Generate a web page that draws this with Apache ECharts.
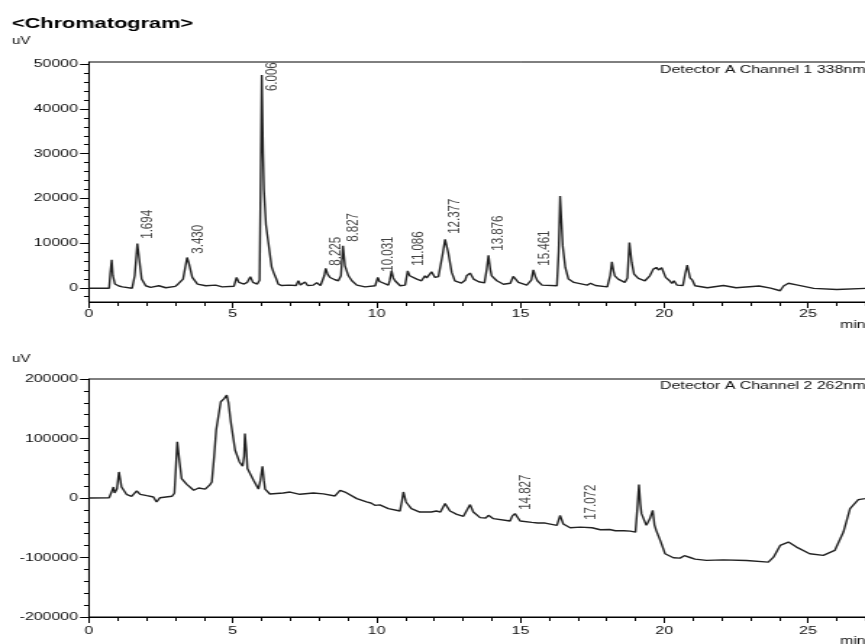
<!DOCTYPE html>
<html>
<head>
<meta charset="utf-8">
<script src="https://cdn.jsdelivr.net/npm/echarts@6/dist/echarts.min.js"></script>
<style>
html, body { margin: 0; padding: 0; background: #fff; overflow: hidden; width: 865px; height: 644px; }
#chart { width: 700px; height: 644px; transform: scaleX(1.4489); transform-origin: 0 0; }
</style>
</head>
<body>
<div id="chart"></div>
<script>
// Detector A Channel 1 338nm
var time1 = [0.00, 0.70, 0.74, 0.79, 0.83, 0.90, 1.04, 1.16, 1.50, 1.59, 1.68, 1.76, 1.83, 1.97, 2.14, 2.43, 2.67, 3.00, 3.10, 3.19,
  3.27, 3.41, 3.48, 3.59, 3.77, 4.06, 4.40, 4.63, 5.04, 5.13, 5.21, 5.39, 5.50, 5.61, 5.70, 5.85, 5.93, 5.97, 6.006, 6.05,
  6.08, 6.15, 6.26, 6.35, 6.42, 6.50, 6.58, 6.70, 6.95, 7.20, 7.28, 7.35, 7.51, 7.60, 7.80, 7.92, 8.05, 8.13, 8.18, 8.23,
  8.30, 8.38, 8.55, 8.67, 8.76, 8.83, 8.90, 9.02, 9.14, 9.31, 9.60, 9.95, 10.04, 10.10, 10.18, 10.41, 10.46, 10.52, 10.58, 10.64,
  10.82, 10.99, 11.08, 11.15, 11.22, 11.40, 11.56, 11.68, 11.74, 11.80, 11.91, 12.03, 12.15, 12.30, 12.38, 12.49, 12.61, 12.72, 12.95, 13.08,
  13.13, 13.19, 13.25, 13.37, 13.55, 13.75, 13.83, 13.89, 13.95, 14.00, 14.18, 14.41, 14.65, 14.75, 14.93, 15.22, 15.38, 15.45, 15.52, 15.59,
  15.75, 16.27, 16.33, 16.38, 16.47, 16.56, 16.67, 16.86, 17.32, 17.44, 17.61, 18.02, 18.12, 18.18, 18.24, 18.28, 18.40, 18.63, 18.72, 18.79,
  18.87, 18.95, 19.10, 19.33, 19.50, 19.62, 19.73, 19.80, 19.85, 19.91, 19.96, 20.05, 20.19, 20.27, 20.34, 20.44, 20.65, 20.73, 20.80, 20.86,
  20.90, 20.98, 21.07, 21.50, 22.06, 22.50, 23.30, 23.70, 24.03, 24.15, 24.32, 24.60, 25.20, 26.00, 27.00, 28.00];
var signal1 = [-300, -300, 3000, 6060, 2500, 650, 200, 0, -300, 2500, 9730, 5480, 1750, 250, -100, 250, -200, 100, 650, 250,
  1750, 6600, 5100, 2120, 630, 250, 400, 0, 150, 2100, 1000, 630, 1000, 2260, 1000, 630, 1500, 25000, 47600, 30000,
  21900, 14000, 8800, 4500, 3200, 2000, 600, 300, 400, 300, 1400, 400, 1100, 300, 400, 900, 300, 500, 2500, 4140,
  2800, 2100, 1600, 1370, 2480, 9200, 4720, 2480, 1370, 400, 0, 250, 2120, 1200, 850, 400, 1500, 3600, 2000, 1370,
  250, 400, 3600, 2500, 2120, 1750, 1370, 2480, 2000, 1800, 3380, 2120, 2300, 7500, 10690, 7700, 3240, 1370, 850, 1500,
  2480, 2300, 3090, 1750, 1150, 900, 4000, 7110, 4000, 2480, 1370, 600, 800, 2340, 1000, 400, 1500, 3830, 2300, 1370,
  400, 250, 8000, 20400, 9200, 4360, 1750, 1000, 400, 800, 300, 0, 2500, 5620, 3500, 2480, 1750, 1000, 2000, 9950,
  5480, 2860, 1900, 1370, 2480, 3980, 4360, 3800, 3830, 4300, 4140, 2120, 1370, 800, 1370, 400, 300, 3000, 4880, 3200,
  2000, 1500, 250, -200, 300, -200, 200, -300, -870, 200, 800, 450, -330, -600, -350, -300];
var peakTimes1 = [1.694, 3.430, 6.006, 8.225, 8.827, 10.031, 11.086, 12.377, 13.876, 15.461];
var peakLabelY1 = [10700, 7340, 43870, 4650, 10000, 3300, 4650, 11800, 8000, 4650];

// Detector A Channel 2 262nm
var time2 = [0.00, 0.70, 0.80, 0.85, 0.89, 0.97, 1.04, 1.13, 1.30, 1.48, 1.66, 1.78, 2.01, 2.24, 2.35, 2.47, 2.88, 2.97, 3.07, 3.15,
  3.22, 3.40, 3.64, 3.81, 4.04, 4.20, 4.27, 4.35, 4.42, 4.58, 4.70, 4.79, 4.85, 4.93, 5.08, 5.23, 5.34, 5.39, 5.42, 5.47,
  5.51, 5.72, 5.89, 5.96, 6.03, 6.08, 6.12, 6.29, 6.75, 6.99, 7.33, 7.80, 8.15, 8.55, 8.73, 8.90, 9.31, 9.65, 9.71, 9.80,
  9.94, 10.11, 10.41, 10.81, 10.88, 10.93, 11.02, 11.21, 11.50, 11.90, 12.08, 12.22, 12.38, 12.55, 12.79, 13.02, 13.25, 13.36, 13.60, 13.80,
  13.89, 14.06, 14.64, 14.72, 14.81, 14.99, 15.40, 15.48, 15.60, 15.86, 15.95, 16.27, 16.38, 16.49, 16.73, 17.08, 17.14, 17.49, 17.78, 18.10,
  18.19, 18.30, 18.60, 18.82, 19.00, 19.06, 19.12, 19.17, 19.21, 19.38, 19.50, 19.60, 19.66, 19.72, 19.86, 20.03, 20.32, 20.55, 20.70, 20.80,
  20.90, 21.07, 21.47, 22.05, 22.86, 23.62, 23.80, 24.03, 24.32, 24.60, 25.06, 25.53, 25.93, 26.23, 26.46, 26.75, 26.98, 27.30];
var signal2 = [0, 500, 12000, 18500, 8400, 15000, 43800, 18500, 6200, 2900, 11800, 6200, 3900, 1700, -6700, 500, 2900, 8000, 94300, 60000,
  32700, 23000, 13000, 16800, 15000, 22000, 27000, 70000, 114000, 161700, 167000, 173000, 160000, 128000, 80300, 60600, 53400, 70000, 108400, 80000,
  49500, 29800, 15000, 30000, 53400, 30000, 15000, 6700, 8400, 10000, 6200, 8400, 7000, 3400, 13000, 10000, -1000, -6500, -4500, -8400,
  -12300, -11500, -17800, -21900, -5000, 10100, -6700, -17800, -23600, -23600, -21900, -23600, -9400, -21900, -27400, -30800, -11100, -23600, -33000, -33500,
  -29100, -34700, -38700, -30000, -26300, -38700, -41000, -39500, -42000, -42100, -44000, -46000, -29100, -43700, -49900, -49000, -47000, -50000, -53300, -53000,
  -49900, -55000, -55000, -55600, -57300, -20000, 22500, -10000, -26300, -46000, -35000, -20700, -45000, -54400, -71200, -93700, -100400, -101000, -97000, -95300,
  -100000, -102700, -104900, -104000, -105000, -107800, -99400, -79700, -74100, -82500, -93700, -96500, -88100, -57200, -17900, -2700, -1000, 2000];
var peakTimes2 = [14.827, 17.072];
var peakLabelY2 = [-20700, -37500];

var xTickLabels = [0, 5, 10, 15, 20, 25];
var yTickLabels1 = [0, 10000, 20000, 30000, 40000, 50000];
var yTickLabels2 = [-200000, -100000, 0, 100000, 200000];

// the page is stretched sideways by css, horizontal sizes are given in final pixels
var SX = 1.4489;
function px(v) { return v / SX; }

function pairs(a, b) {
    var out = [];
    for (var i = 0; i < a.length; i++) {
        out.push([a[i], b[i]]);
    }
    return out;
}

var font = 'Arial, "Liberation Sans", sans-serif';
var ink = '#111';
var plotLeft = px(89);
var plotWidth = px(30 * 28.76);

function xAxisFor(gridIndex, margin) {
    return {
        type: 'value', gridIndex: gridIndex, min: 0, max: 30, interval: 5,
        axisLine: { show: true, onZero: false, lineStyle: { color: '#000', width: 1 } },
        axisTick: { show: true, length: 6, lineStyle: { color: '#000' } },
        minorTick: { show: true, splitNumber: 5, length: 4, lineStyle: { color: '#000' } },
        splitLine: { show: false },
        axisLabel: {
            margin: margin, color: ink, fontSize: 11, fontFamily: font,
            formatter: function (v) { return xTickLabels.indexOf(v) >= 0 ? String(v) : ''; }
        }
    };
}

function labelSeries(xi, yi, times, levels) {
    return {
        type: 'scatter', xAxisIndex: xi, yAxisIndex: yi, symbolSize: 1,
        itemStyle: { color: 'transparent' }, silent: true,
        data: pairs(times, levels),
        label: {
            show: true, rotate: 90, position: [px(11), 0], align: 'left', verticalAlign: 'middle',
            color: ink, fontSize: 11.5, fontFamily: font,
            formatter: function (p) { return p.value[0].toFixed(3); }
        }
    };
}

var option = {
    animation: false,
    backgroundColor: '#fff',
    grid: [
        { left: plotLeft, top: 62, width: plotWidth, height: 240, show: true, borderColor: '#000', borderWidth: 1 },
        { left: plotLeft, top: 64.3, width: plotWidth, height: 232.4, show: false },
        { left: plotLeft, top: 64.3, width: plotWidth, height: 223.5, show: false },
        { left: plotLeft, top: 379, width: plotWidth, height: 238, show: true, borderColor: '#000', borderWidth: 1 }
    ],
    xAxis: [
        xAxisFor(0, 6),
        { type: 'value', gridIndex: 1, min: 0, max: 30, show: false },
        { type: 'value', gridIndex: 2, min: 0, max: 30, show: false },
        xAxisFor(3, 8)
    ],
    yAxis: [
        {
            type: 'value', gridIndex: 0, min: -3400, max: 50500,
            axisLine: { show: true, lineStyle: { color: '#000' } },
            axisTick: { show: false }, axisLabel: { show: false }, splitLine: { show: false }
        },
        {
            // minor ticks every 2000
            type: 'value', gridIndex: 1, min: -2000, max: 50000, interval: 2000,
            axisLine: { show: false },
            axisTick: { show: true, length: px(5), lineStyle: { color: '#000' } },
            axisLabel: { show: false }, splitLine: { show: false }
        },
        {
            type: 'value', gridIndex: 2, min: 0, max: 50000, interval: 10000,
            axisLine: { show: false },
            axisTick: { show: true, length: px(9), lineStyle: { color: '#000' } },
            axisLabel: {
                margin: px(11), color: ink, fontSize: 11, fontFamily: font,
                formatter: function (v) { return yTickLabels1.indexOf(v) >= 0 ? String(v) : ''; }
            },
            splitLine: { show: false }
        },
        {
            type: 'value', gridIndex: 3, min: -200000, max: 200000, interval: 100000,
            axisLine: { show: true, lineStyle: { color: '#000' } },
            axisTick: { show: true, length: px(9), lineStyle: { color: '#000' } },
            minorTick: { show: true, splitNumber: 5, length: px(5), lineStyle: { color: '#000' } },
            axisLabel: {
                margin: px(11), color: ink, fontSize: 11, fontFamily: font,
                formatter: function (v) { return yTickLabels2.indexOf(v) >= 0 ? String(v) : ''; }
            },
            splitLine: { show: false }
        }
    ],
    graphic: [
        { type: 'text', left: px(12), top: 16, style: { text: '<Chromatogram>', font: 'bold 15px ' + font, fill: '#000' } },
        { type: 'text', left: px(12), top: 36, style: { text: 'uV', font: '10.5px ' + font, fill: ink } },
        { type: 'text', left: px(660), top: 64, style: { text: 'Detector A Channel 1 338nm', font: '11px ' + font, fill: ink } },
        { type: 'text', left: px(840), top: 319, style: { text: 'min', font: '11px ' + font, fill: ink } },
        { type: 'text', left: px(12), top: 354, style: { text: 'uV', font: '10.5px ' + font, fill: ink } },
        { type: 'text', left: px(660), top: 380, style: { text: 'Detector A Channel 2 262nm', font: '11px ' + font, fill: ink } },
        { type: 'text', left: px(840), top: 635, style: { text: 'min', font: '11px ' + font, fill: ink } }
    ],
    series: [
        {
            type: 'line', xAxisIndex: 0, yAxisIndex: 0, showSymbol: false, silent: true,
            lineStyle: { color: '#222', width: 1.4 },
            data: pairs(time1, signal1)
        },
        labelSeries(0, 0, peakTimes1, peakLabelY1),
        {
            type: 'line', xAxisIndex: 3, yAxisIndex: 3, showSymbol: false, silent: true,
            lineStyle: { color: '#222', width: 1.4 },
            data: pairs(time2, signal2)
        },
        labelSeries(3, 3, peakTimes2, peakLabelY2)
    ]
};

var myChart = echarts.init(document.getElementById('chart'));
myChart.setOption(option);
</script>
</body>
</html>
